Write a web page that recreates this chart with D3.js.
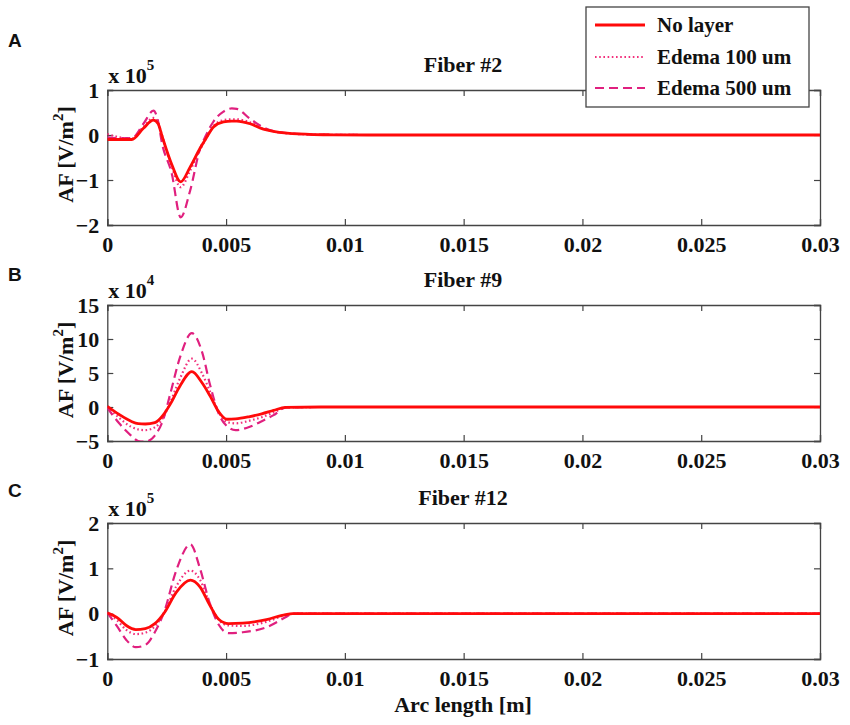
<!DOCTYPE html>
<html>
<head>
<meta charset="utf-8">
<script src="https://cdn.jsdelivr.net/npm/d3@7"></script>
<style>
  html, body { margin: 0; padding: 0; background: #fff; }
  svg text.serif, svg .serif text { font-family: "Liberation Serif", "Tinos", "Times New Roman", Times, "DejaVu Serif", "Noto Serif", serif !important; font-weight: bold; fill: #111; }
</style>
</head>
<body>
<svg id="chart" width="850" height="725"></svg>
<script>
// ---------- data ----------
const seriesNames = ["No layer", "Edema 100 um", "Edema 500 um"];
const xTicks = [0, 0.005, 0.01, 0.015, 0.02, 0.025, 0.03];

// Panel A : Fiber #2  (x 10^5)
const arcA      = [0, 0.0005, 0.00103, 0.00152, 0.00194, 0.00214, 0.00229, 0.00271, 0.00309, 0.00348, 0.00391, 0.00416, 0.00447, 0.00489, 0.00524, 0.00545, 0.00601, 0.00657, 0.00699, 0.00756, 0.00868, 0.0095, 0.011, 0.03];
const noLayerA  = [-0.1, -0.1, -0.1, 0.15, 0.33, 0.25, 0.0, -0.65, -1.04, -0.72, -0.29, -0.07, 0.18, 0.29, 0.31, 0.31, 0.25, 0.13, 0.08, 0.04, 0.01, 0.005, 0, 0];
const edema100A = [0.02, -0.05, -0.08, 0.18, 0.38, 0.28, 0.02, -0.7, -1.16, -0.8, -0.32, -0.08, 0.2, 0.33, 0.35, 0.35, 0.28, 0.14, 0.08, 0.04, 0.01, 0.005, 0, 0];
const edema500A = [-0.05, -0.07, -0.07, 0.25, 0.54, 0.3, -0.15, -0.85, -1.83, -1.25, -0.3, 0.0, 0.3, 0.52, 0.59, 0.58, 0.36, 0.17, 0.09, 0.04, 0.01, 0.005, 0, 0];

// Panel B : Fiber #9  (x 10^4)
const arcB      = [0, 0.0005, 0.001, 0.0013, 0.0016, 0.002, 0.00236, 0.00264, 0.00306, 0.00356, 0.00398, 0.00433, 0.00468, 0.00503, 0.0054, 0.006, 0.0065, 0.007, 0.0075, 0.009, 0.03];
const noLayerB  = [0.1, -1.1, -2.1, -2.45, -2.5, -2.3, -1.15, 0.35, 3.1, 5.2, 3.6, 1.6, -0.65, -1.8, -1.75, -1.4, -1.0, -0.5, -0.05, 0, 0];
const edema100B = [0.05, -1.6, -2.9, -3.3, -3.4, -3.0, -1.5, 0.6, 4.2, 7.1, 5.0, 2.2, -0.7, -2.2, -2.4, -2.0, -1.5, -0.8, -0.08, 0, 0];
const edema500B = [-0.1, -2.4, -4.2, -5.0, -5.1, -4.2, -1.8, 1.8, 7.3, 10.85, 8.2, 3.2, -0.9, -2.8, -3.4, -2.9, -2.1, -1.2, -0.1, 0, 0];

// Panel C : Fiber #12 (x 10^5)
const arcC      = [0, 0.0004, 0.0008, 0.0012, 0.0016, 0.002, 0.0024, 0.0029, 0.0035, 0.0039, 0.0043, 0.0047, 0.0051, 0.0057, 0.0067, 0.0075, 0.0078, 0.009, 0.03];
const noLayerC  = [0.02, -0.08, -0.26, -0.35, -0.33, -0.22, 0.02, 0.47, 0.74, 0.59, 0.2, -0.13, -0.22, -0.21, -0.13, -0.02, 0, 0, 0];
const edema100C = [0.02, -0.14, -0.36, -0.45, -0.42, -0.28, 0.03, 0.6, 0.95, 0.75, 0.24, -0.14, -0.26, -0.27, -0.18, -0.03, 0, 0, 0];
const edema500C = [0.02, -0.27, -0.58, -0.74, -0.69, -0.41, 0.05, 0.95, 1.53, 1.0, 0.25, -0.25, -0.43, -0.41, -0.3, -0.08, 0, 0, 0];

const panelLetters = ["A", "B", "C"];
const panelTitles  = ["Fiber #2", "Fiber #9", "Fiber #12"];
const panelExps    = ["5", "4", "5"];
const yDomains     = [[-2, 1], [-5, 15], [-1, 2]];
const yTickSets    = [[-2, -1, 0, 1], [-5, 0, 5, 10, 15], [-1, 0, 1, 2]];

// ---------- layout ----------
const svg = d3.select("#chart");
const left = 107.3, right = 820;
const layout = [
  { top: 90,  bottom: 225, letterY: 47 },
  { top: 305, bottom: 441, letterY: 281 },
  { top: 523, bottom: 659, letterY: 497 }
];
const styles = [
  { color: "#ff0a0a", width: 2.8, dash: null },
  { color: "#f2307c", width: 2.2, dash: "1.6,2.6" },
  { color: "#e0207f", width: 2.2, dash: "9,5" }
];
const panels = [
  { x: arcA, ys: [noLayerA, edema100A, edema500A] },
  { x: arcB, ys: [noLayerB, edema100B, edema500B] },
  { x: arcC, ys: [noLayerC, edema100C, edema500C] }
];

const x = d3.scaleLinear().domain([0, 0.03]).range([left, right]);
const fmtX = d => d === 0 ? "0" : String(+d.toFixed(3));
const frameColor = "#444";
const FS = 22;

panels.forEach((p, i) => {
  const L = layout[i];
  const y = d3.scaleLinear().domain(yDomains[i]).range([L.bottom, L.top]);
  const g = svg.append("g").attr("class", "serif");

  const clipId = "clip" + i;
  svg.append("defs").append("clipPath").attr("id", clipId)
    .append("rect").attr("x", left).attr("y", L.top)
    .attr("width", right - left).attr("height", L.bottom - L.top);

  const bottomAxis = d3.axisBottom(x).tickValues(xTicks).tickSize(-6).tickFormat(fmtX);
  const topAxis = d3.axisTop(x).tickValues(xTicks).tickSize(-6).tickFormat("");
  const leftAxis = d3.axisLeft(y).tickValues(yTickSets[i]).tickSize(-6).tickPadding(8).tickFormat(d3.format("d"));
  const rightAxis = d3.axisRight(y).tickValues(yTickSets[i]).tickSize(-6).tickFormat("");

  const styleAxis = sel => {
    sel.attr("font-family", null).attr("font-size", null);
    sel.selectAll("path").attr("stroke", frameColor).attr("stroke-width", 1.3);
    sel.selectAll("line").attr("stroke", frameColor).attr("stroke-width", 1.2);
    sel.selectAll("text").attr("font-size", FS).attr("fill", "#111");
  };
  g.append("g").attr("transform", `translate(0,${L.bottom})`).call(bottomAxis).call(styleAxis)
    .selectAll("text").attr("y", 27).attr("dy", 0);
  g.append("g").attr("transform", `translate(0,${L.top})`).call(topAxis).call(styleAxis);
  g.append("g").attr("transform", `translate(${left},0)`).call(leftAxis).call(styleAxis);
  g.append("g").attr("transform", `translate(${right},0)`).call(rightAxis).call(styleAxis);

  const line = d3.line().x((d, k) => x(p.x[k])).y(d => y(d)).curve(d3.curveMonotoneX);
  [2, 1, 0].forEach(s => {
    g.append("path")
      .attr("clip-path", `url(#${clipId})`)
      .attr("d", line(p.ys[s]))
      .attr("fill", "none")
      .attr("stroke", styles[s].color)
      .attr("stroke-width", styles[s].width)
      .attr("stroke-dasharray", styles[s].dash)
      .attr("stroke-linejoin", "round");
  });

  const ex = g.append("text").attr("x", left + 1).attr("y", L.top - 7).attr("font-size", FS);
  ex.append("tspan").text("x 10");
  ex.append("tspan").attr("font-size", 15).attr("dy", -13).text(panelExps[i]);

  g.append("text").attr("x", 463).attr("y", L.top - 18).attr("text-anchor", "middle")
    .attr("font-size", FS).text(panelTitles[i]);

  const cy = (L.top + L.bottom) / 2 - 3;
  const yl = g.append("text").attr("transform", `translate(73,${cy}) rotate(-90)`)
    .attr("text-anchor", "middle").attr("font-size", FS);
  yl.append("tspan").text("AF [V/m");
  yl.append("tspan").attr("font-size", 15).attr("dy", -10).text("2");
  yl.append("tspan").attr("dy", 10).text("]");

  svg.append("text").attr("x", 8).attr("y", L.letterY)
    .attr("style", "font-family: 'Liberation Sans', Arial, sans-serif; font-weight: bold; font-size: 19px; fill:#111")
    .text(panelLetters[i]);
});

svg.append("text").attr("class", "serif").attr("x", 463).attr("y", 712).attr("text-anchor", "middle")
  .attr("font-size", FS).text("Arc length [m]");

const lg = svg.append("g").attr("class", "serif");
lg.append("rect").attr("x", 586).attr("y", 7).attr("width", 223).attr("height", 100)
  .attr("fill", "#fff").attr("stroke", frameColor).attr("stroke-width", 1.3);
const rowsY = [25, 57, 88];
seriesNames.forEach((name, s) => {
  lg.append("line").attr("x1", 595).attr("x2", 645).attr("y1", rowsY[s]).attr("y2", rowsY[s])
    .attr("stroke", styles[s].color).attr("stroke-width", styles[s].width)
    .attr("stroke-dasharray", styles[s].dash);
  lg.append("text").attr("x", 657).attr("y", rowsY[s]).attr("dy", "0.35em")
    .attr("font-size", 21).text(name);
});
</script>
</body>
</html>
